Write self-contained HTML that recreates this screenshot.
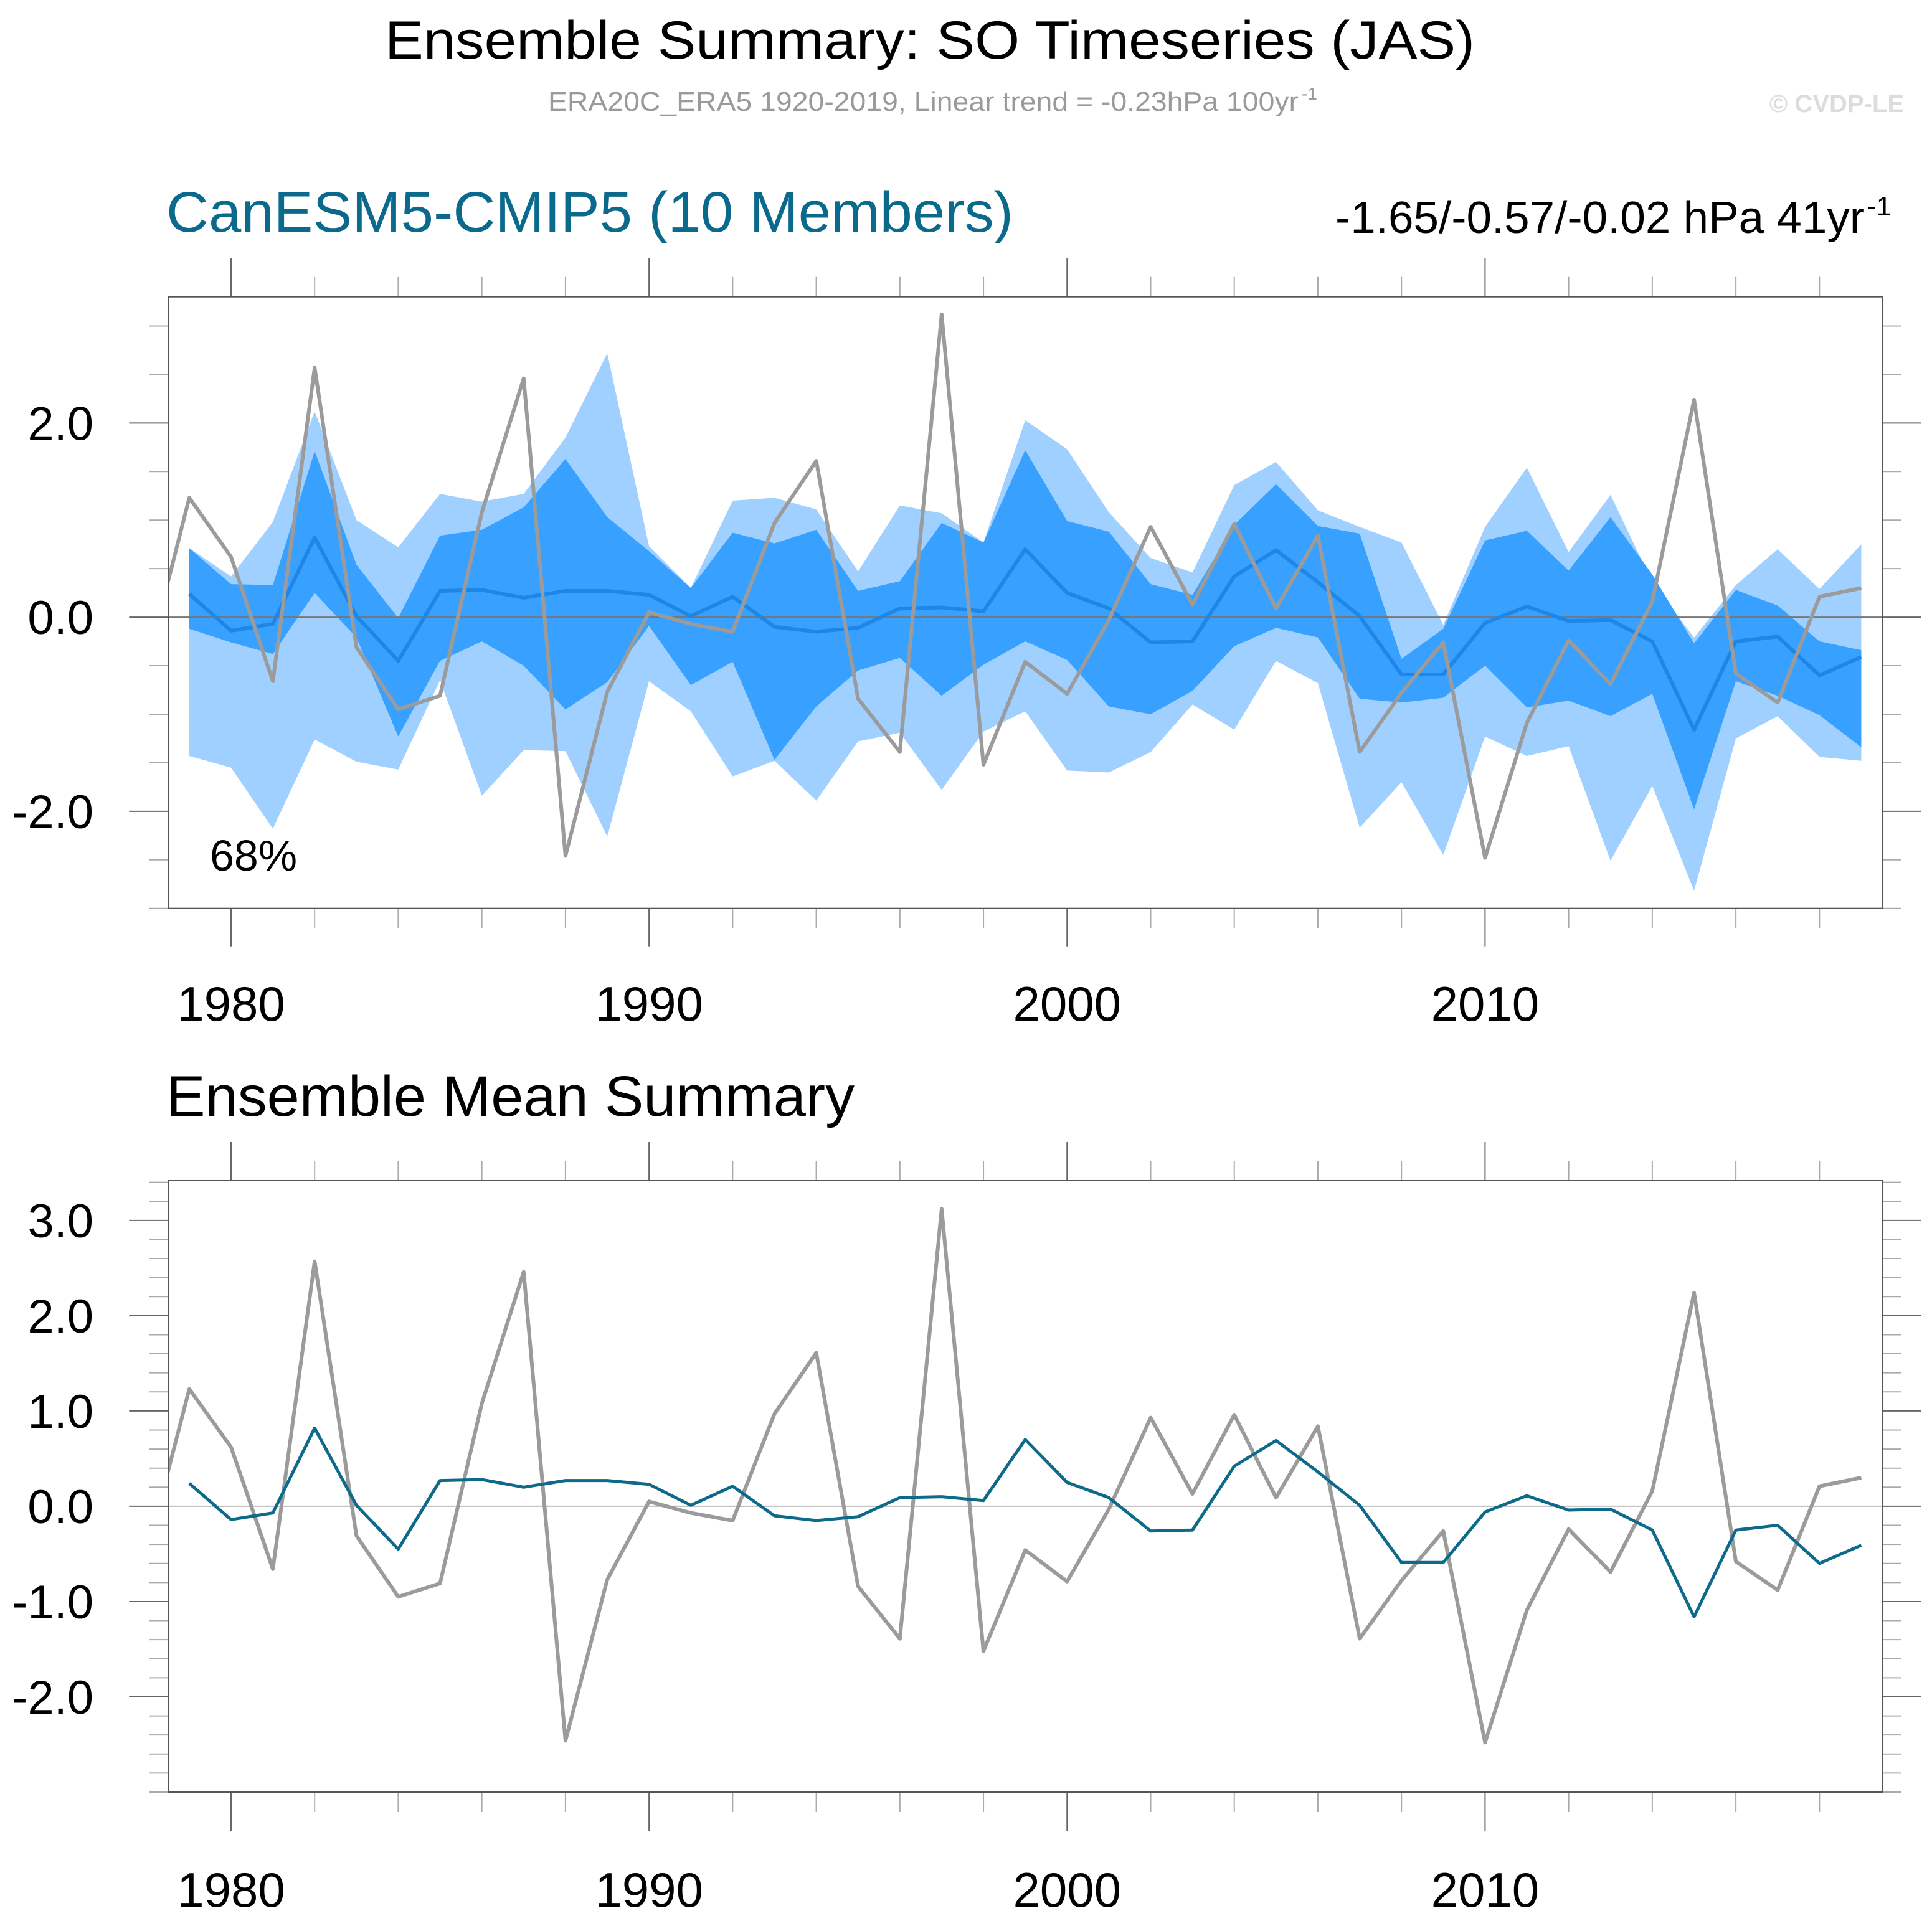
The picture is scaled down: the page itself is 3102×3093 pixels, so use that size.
<!DOCTYPE html>
<html><head><meta charset="utf-8"><style>
html,body{margin:0;padding:0;background:#fff}
svg{display:block}
text{font-family:"Liberation Sans",Arial,sans-serif}
</style></head><body>
<svg id="chart" xmlns="http://www.w3.org/2000/svg" width="3102" height="3093" viewBox="0 0 3102 3093">
<defs>
<clipPath id="clipTop"><rect x="270.3" y="476.7" width="2751.7" height="982"/></clipPath>
<clipPath id="clipBottom"><rect x="270.3" y="1896" width="2751.7" height="982"/></clipPath>
</defs>
<rect width="3102" height="3093" fill="#fff"/>
<text x="618" y="94" font-size="86" textLength="1750" lengthAdjust="spacingAndGlyphs">Ensemble Summary: SO Timeseries (JAS)</text>
<text x="880" y="178" font-size="44" fill="#9a9a9a" textLength="1205" lengthAdjust="spacingAndGlyphs">ERA20C_ERA5 1920-2019, Linear trend = -0.23hPa 100yr</text>
<text x="2090" y="160" font-size="28" fill="#9a9a9a">-1</text>
<text x="3057" y="180" font-size="40" font-weight="bold" fill="#dcdcdc" text-anchor="end">© CVDP-LE</text>
<text x="267" y="372" font-size="92" fill="#0b6a8c" textLength="1360" lengthAdjust="spacingAndGlyphs">CanESM5-CMIP5 (10 Members)</text>
<text x="2144" y="374" font-size="72" textLength="850" lengthAdjust="spacingAndGlyphs">-1.65/-0.57/-0.02 hPa 41yr</text>
<text x="2998" y="346" font-size="44">-1</text>
<text x="267" y="1792" font-size="92" textLength="1105" lengthAdjust="spacingAndGlyphs">Ensemble Mean Summary</text>
<g id="top"></g>
<g id="bottom"></g>
</svg>
<script>
const years = [];
for (let y = 1979; y <= 2019; y++) years.push(y);
const obsYears = [];
for (let y = 1978; y <= 2019; y++) obsYears.push(y);
const obsValues = [-0.47,1.23,0.62,-0.66,2.57,-0.31,-0.95,-0.81,1.08,2.46,-2.46,-0.77,0.05,-0.07,-0.15,0.97,1.61,-0.84,-1.39,3.12,-1.52,-0.46,-0.79,-0.03,0.93,0.13,0.96,0.09,0.84,-1.39,-0.78,-0.26,-2.48,-1.09,-0.24,-0.69,0.16,2.24,-0.58,-0.88,0.21,0.30];
const meanValues = [0.24,-0.14,-0.07,0.82,0.01,-0.45,0.27,0.28,0.20,0.27,0.27,0.23,0.01,0.21,-0.10,-0.15,-0.11,0.09,0.10,0.06,0.70,0.25,0.09,-0.26,-0.25,0.42,0.69,0.36,0.01,-0.59,-0.59,-0.06,0.11,-0.04,-0.03,-0.25,-1.16,-0.25,-0.20,-0.60,-0.41];
const outerUpper = [0.71,0.42,0.98,2.12,1.00,0.72,1.27,1.19,1.27,1.85,2.72,0.73,0.30,1.20,1.23,1.11,0.47,1.15,1.07,0.77,2.03,1.73,1.08,0.61,0.46,1.36,1.60,1.10,0.93,0.77,-0.08,0.93,1.54,0.67,1.26,0.36,-0.21,0.33,0.70,0.29,0.75];
const innerUpper = [0.71,0.34,0.33,1.71,0.54,-0.01,0.84,0.90,1.13,1.63,1.03,0.68,0.30,0.87,0.76,0.90,0.27,0.37,0.97,0.77,1.72,0.99,0.88,0.34,0.23,0.95,1.37,0.94,0.86,-0.43,-0.12,0.79,0.89,0.48,1.03,0.44,-0.27,0.28,0.12,-0.25,-0.34];
const innerLower = [-0.12,-0.26,-0.38,0.25,-0.21,-1.23,-0.45,-0.25,-0.50,-0.95,-0.67,-0.09,-0.70,-0.46,-1.47,-0.92,-0.55,-0.42,-0.81,-0.49,-0.25,-0.44,-0.92,-1.00,-0.76,-0.30,-0.11,-0.21,-0.84,-0.88,-0.83,-0.50,-0.93,-0.86,-1.02,-0.79,-1.98,-0.66,-0.81,-1.01,-1.34];
const outerLower = [-1.43,-1.55,-2.18,-1.26,-1.49,-1.57,-0.65,-1.84,-1.37,-1.38,-2.26,-0.66,-0.97,-1.64,-1.48,-1.89,-1.28,-1.19,-1.78,-1.18,-0.97,-1.58,-1.60,-1.39,-0.90,-1.16,-0.45,-0.68,-2.17,-1.70,-2.45,-1.23,-1.43,-1.33,-2.51,-1.74,-2.82,-1.25,-1.02,-1.44,-1.48];
const xTickYears = [1980,1990,2000,2010];
const topYTicks = [-2.0,0.0,2.0];
const bottomYTicks = [-2.0,-1.0,0.0,1.0,2.0,3.0];

const NS = "http://www.w3.org/2000/svg";
function mk(tag, attrs, parent) {
  const e = document.createElementNS(NS, tag);
  for (const k in attrs) e.setAttribute(k, attrs[k]);
  parent.appendChild(e);
  return e;
}
const L = 270.3, R = 3022, X0 = 1978.5, X1 = 2019.5;
const xs = yr => L + (yr - X0) / (X1 - X0) * (R - L);

function panel(g, top, bottom, ymin, ymax, minorStep, yTicks, labelY) {
  const ys = v => bottom - (v - ymin) / (ymax - ymin) * (bottom - top);
  for (let yr = 1980; yr <= 2018; yr += 2) {
    const major = yr % 10 === 0;
    const len = major ? 62 : 32;
    const x = xs(yr);
    const t1 = mk('line', {x1:x, x2:x, y1:top-len, y2:top, stroke: major?'#666':'#aaa', 'stroke-width':2}, g);
    
    
    const t2 = mk('line', {x1:x, x2:x, y1:bottom, y2:bottom+len, stroke: major?'#666':'#aaa', 'stroke-width':2}, g);
    
    
  }
  xTickYears.forEach(yr => {
    const t = mk('text', {x: xs(yr), y: labelY, 'font-size': 78, 'text-anchor':'middle'}, g);
    t.textContent = yr;
    
    
  });
  const n = Math.round((ymax - ymin) / minorStep);
  for (let i = 0; i <= n + 1; i++) {
    const v = Math.ceil(ymin / minorStep - 1e-6) * minorStep + i * minorStep;
    if (v > ymax + 1e-6) break;
    const major = yTicks.some(t => Math.abs(t - v) < 1e-6);
    const len = major ? 63 : 31;
    const y = ys(v);
    const a = mk('line', {x1:L-len, x2:L, y1:y, y2:y, stroke: major?'#666':'#aaa', 'stroke-width':2}, g);
    
    
    const b = mk('line', {x1:R, x2:R+len, y1:y, y2:y, stroke: major?'#666':'#aaa', 'stroke-width':2}, g);
    
    
  }
  yTicks.forEach(v => {
    const t = mk('text', {x: 150, y: ys(v) + 27, 'font-size': 76, 'text-anchor':'end'}, g);
    t.textContent = v.toFixed(1);
    
    
  });
  return ys;
}
function pts(vals, ys, yrs) { yrs = yrs || years; return vals.map((v,i) => xs(yrs[i]).toFixed(1) + ',' + ys(v).toFixed(1)); }

// TOP PANEL
const gt = document.getElementById('top');


const ysT = panel(gt, 476.7, 1458.7, -3.0, 3.3, 0.5, topYTicks, 1639);
const outer = mk('polygon', {points: pts(outerUpper, ysT).concat(pts(outerLower, ysT).reverse()).join(' '), fill:'#a0d0ff'}, gt);


const inner = mk('polygon', {points: pts(innerUpper, ysT).concat(pts(innerLower, ysT).reverse()).join(' '), fill:'#38a0ff'}, gt);


const z1 = mk('line', {x1:L, x2:R, y1:ysT(0), y2:ysT(0), stroke:'#777', 'stroke-width':2}, gt);


const m1 = mk('polyline', {points: pts(meanValues, ysT).join(' '), fill:'none', stroke:'#1d86e6', 'stroke-width':6, 'stroke-linejoin':'round'}, gt);


const o1 = mk('polyline', {points: pts(obsValues, ysT, obsYears).join(' '), fill:'none', stroke:'#9b9b9b', 'stroke-width':6, 'stroke-linejoin':'round', 'clip-path':'url(#clipTop)'}, gt);


const f1 = mk('rect', {x:L, y:476.7, width:R-L, height:982, fill:'none', stroke:'#555', 'stroke-width':2}, gt);


const pct = mk('text', {x:337, y:1398, 'font-size':70}, gt);
pct.textContent = '68%';



// BOTTOM PANEL
const gb = document.getElementById('bottom');


const ysB = panel(gb, 1896, 2878, -3.0, 3.417, 0.2, bottomYTicks, 3062);
const z2 = mk('line', {x1:L, x2:R, y1:ysB(0), y2:ysB(0), stroke:'#bbb', 'stroke-width':2}, gb);


const o2 = mk('polyline', {points: pts(obsValues, ysB, obsYears).join(' '), fill:'none', stroke:'#9b9b9b', 'stroke-width':6, 'stroke-linejoin':'round', 'clip-path':'url(#clipBottom)'}, gb);


const m2 = mk('polyline', {points: pts(meanValues, ysB).join(' '), fill:'none', stroke:'#0e6a8a', 'stroke-width':5, 'stroke-linejoin':'round'}, gb);


const f2 = mk('rect', {x:L, y:1896, width:R-L, height:982, fill:'none', stroke:'#555', 'stroke-width':2}, gb);


</script>
</body></html>
